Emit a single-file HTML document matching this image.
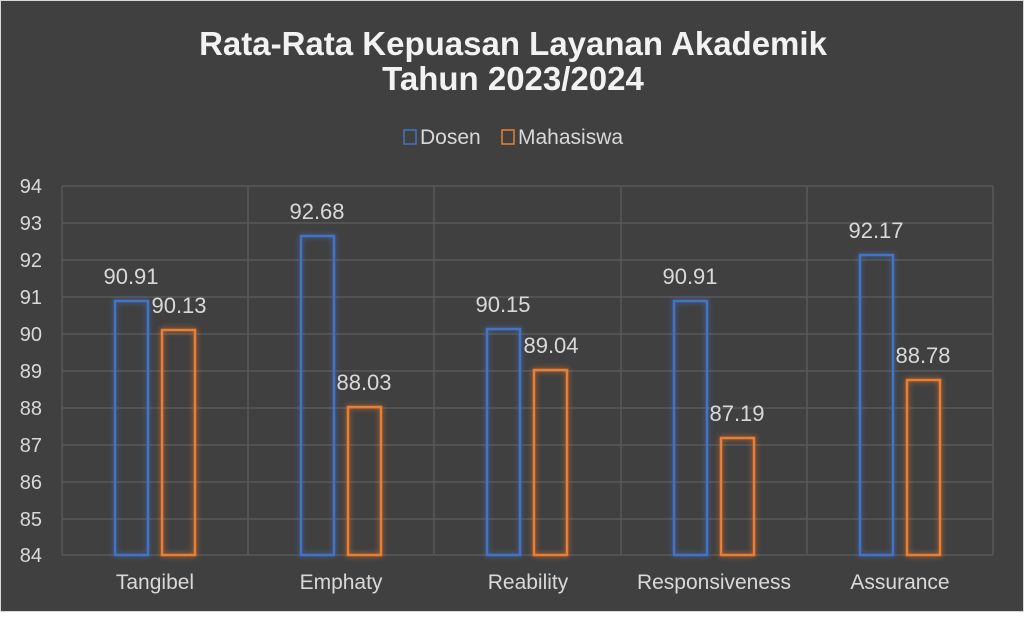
<!DOCTYPE html><html><head><style>body{margin:0;background:#fff}</style></head><body>
<svg width="1024" height="612" xmlns="http://www.w3.org/2000/svg" font-family="Liberation Sans, sans-serif">
<defs><filter id="g" x="-50%" y="-50%" width="200%" height="200%"><feGaussianBlur stdDeviation="3"/></filter></defs>
<rect x="0" y="0" width="1024" height="612" fill="#404040"/>
<rect x="0.5" y="0.5" width="1023" height="611" fill="none" stroke="#d9d9d9"/>
<text x="513" y="55" text-anchor="middle" font-size="33" font-weight="bold" fill="#f2f2f2">Rata-Rata Kepuasan Layanan Akademik</text>
<text x="513" y="90" text-anchor="middle" font-size="33" font-weight="bold" fill="#f2f2f2">Tahun 2023/2024</text>
<rect x="404" y="130" width="12" height="14" fill="none" stroke="#4472c4" stroke-width="1.5"/>
<text x="420" y="144" font-size="21" fill="#d9d9d9">Dosen</text>
<rect x="502" y="130" width="12" height="14" fill="none" stroke="#ed7d31" stroke-width="1.5"/>
<text x="518" y="144" font-size="21" fill="#d9d9d9">Mahasiswa</text>
<g stroke="#595959" stroke-width="1.5">
<line x1="62" x2="993" y1="186" y2="186"/><line x1="62" x2="993" y1="223" y2="223"/><line x1="62" x2="993" y1="260" y2="260"/><line x1="62" x2="993" y1="297" y2="297"/><line x1="62" x2="993" y1="334" y2="334"/><line x1="62" x2="993" y1="371" y2="371"/><line x1="62" x2="993" y1="408" y2="408"/><line x1="62" x2="993" y1="445" y2="445"/><line x1="62" x2="993" y1="482" y2="482"/><line x1="62" x2="993" y1="519" y2="519"/><line x1="62" x2="993" y1="555" y2="555"/>
<line x1="62" x2="62" y1="186" y2="555"/><line x1="248" x2="248" y1="186" y2="555"/><line x1="434" x2="434" y1="186" y2="555"/><line x1="621" x2="621" y1="186" y2="555"/><line x1="807" x2="807" y1="186" y2="555"/><line x1="993" x2="993" y1="186" y2="555"/>
</g>
<g font-size="20" fill="#d9d9d9" text-anchor="end">
<text x="42" y="193">94</text><text x="42" y="230">93</text><text x="42" y="267">92</text><text x="42" y="304">91</text><text x="42" y="341">90</text><text x="42" y="378">89</text><text x="42" y="415">88</text><text x="42" y="452">87</text><text x="42" y="489">86</text><text x="42" y="526">85</text><text x="42" y="562">84</text>
</g>
<g font-size="21" fill="#d9d9d9" text-anchor="middle">
<text x="155" y="589">Tangibel</text><text x="341" y="589">Emphaty</text><text x="528" y="589">Reability</text><text x="714" y="589">Responsiveness</text><text x="900" y="589">Assurance</text>
</g>
<g fill="none" stroke-width="2.5">
<g filter="url(#g)" opacity="0.8">
<rect x="115" y="301" width="33" height="254" stroke="#4472c4"/><rect x="162" y="330" width="33" height="225" stroke="#ed7d31"/>
<rect x="301" y="236" width="33" height="319" stroke="#4472c4"/><rect x="348" y="407" width="33" height="148" stroke="#ed7d31"/>
<rect x="487" y="329" width="33" height="226" stroke="#4472c4"/><rect x="534" y="370" width="33" height="185" stroke="#ed7d31"/>
<rect x="674" y="301" width="33" height="254" stroke="#4472c4"/><rect x="721" y="438" width="33" height="117" stroke="#ed7d31"/>
<rect x="860" y="255" width="33" height="300" stroke="#4472c4"/><rect x="907" y="380" width="33" height="175" stroke="#ed7d31"/>
</g>
<rect x="115" y="301" width="33" height="254" stroke="#4472c4"/><rect x="162" y="330" width="33" height="225" stroke="#ed7d31"/>
<rect x="301" y="236" width="33" height="319" stroke="#4472c4"/><rect x="348" y="407" width="33" height="148" stroke="#ed7d31"/>
<rect x="487" y="329" width="33" height="226" stroke="#4472c4"/><rect x="534" y="370" width="33" height="185" stroke="#ed7d31"/>
<rect x="674" y="301" width="33" height="254" stroke="#4472c4"/><rect x="721" y="438" width="33" height="117" stroke="#ed7d31"/>
<rect x="860" y="255" width="33" height="300" stroke="#4472c4"/><rect x="907" y="380" width="33" height="175" stroke="#ed7d31"/>
</g>
<g font-size="22" fill="#d9d9d9" text-anchor="middle">
<text x="131" y="284">90.91</text><text x="179" y="313">90.13</text>
<text x="317" y="219">92.68</text><text x="364" y="390">88.03</text>
<text x="503" y="312">90.15</text><text x="551" y="353">89.04</text>
<text x="690" y="284">90.91</text><text x="737" y="421">87.19</text>
<text x="876" y="238">92.17</text><text x="923" y="363">88.78</text>
</g>
</svg></body></html>
